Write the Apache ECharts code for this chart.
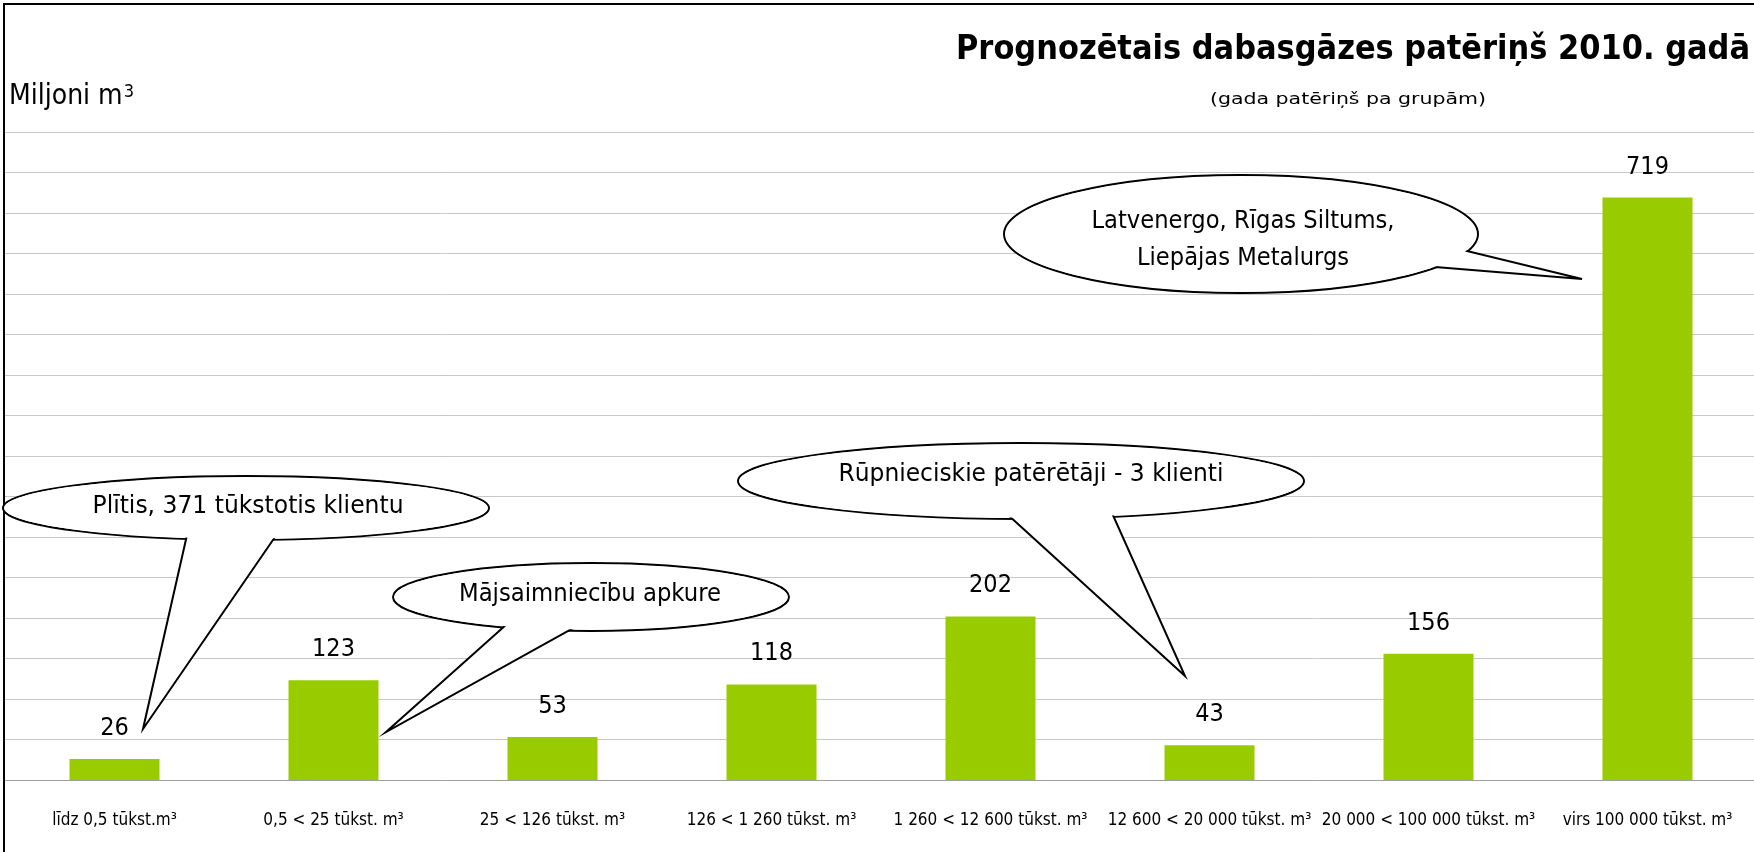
<!DOCTYPE html>
<html>
<head>
<meta charset="utf-8">
<title>Prognozētais dabasgāzes patēriņš 2010. gadā</title>
<script src="https://cdn.jsdelivr.net/npm/echarts@6/dist/echarts.min.js"></script>
<style>
  html, body { margin: 0; padding: 0; background: #fff; }
  #chart { width: 1754px; height: 852px; }
</style>
</head>
<body>
<div id="chart"></div>
<script>
// consumption groups (annual use per customer)
const categories = [
  'līdz 0,5 tūkst.m³',
  '0,5 < 25 tūkst. m³',
  '25 < 126 tūkst. m³',
  '126 < 1 260 tūkst. m³',
  '1 260 < 12 600 tūkst. m³',
  '12 600 < 20 000 tūkst. m³',
  '20 000 < 100 000 tūkst. m³',
  'virs 100 000 tūkst. m³'
]
// million m3
const consumption = [26, 123, 53, 118, 202, 43, 156, 719]

const titleText = 'Prognozētais dabasgāzes patēriņš 2010. gadā'
const subtitleText = '(gada patēriņš pa grupām)'
const calloutTexts = [
  'Plītis, 371 tūkstotis klientu',
  'Mājsaimniecību apkure',
  'Rūpnieciskie patērētāji - 3 klienti',
  'Latvenergo, Rīgas Siltums,\nLiepājas Metalurgs'
]

const FONT = "'DejaVu Sans Condensed', 'Liberation Sans Narrow', 'DejaVu Sans', sans-serif"

// speech bubble geometry in pixels (annotation layout, not data)
const bubbleLayout = [
  { cx: 246, cy: 508, rx: 243, ry: 32, tail: [[187, 535], [143, 729], [275, 537]], tx: 248, ty: 506, tw: 311, lh: 30 },
  { cx: 591, cy: 597, rx: 198, ry: 34, tail: [[507, 624], [386, 732], [575, 627]], tx: 590, ty: 594, tw: 262, lh: 30 },
  { cx: 1021, cy: 481, rx: 283, ry: 38, tail: [[1007, 514], [1185, 676], [1112, 513]], tx: 1031, ty: 474, tw: 385, lh: 30 },
  { cx: 1241, cy: 234, rx: 237, ry: 59, tail: [[1423, 266], [1582, 279], [1463, 250]], tx: 1243, ty: 240, tw: 303, lh: 37 }
]

// measure text so it can be squeezed to the reference width
const ctx = document.createElement('canvas').getContext('2d')
const textWidth = (text, size, weight) => {
  ctx.font = (weight || 'normal') + ' ' + size + 'px ' + FONT
  return Math.max(...text.split('\n').map(t => ctx.measureText(t).width))
}

const bubbleGraphics = []
bubbleLayout.forEach((b, i) => {
  const text = calloutTexts[i]
  const size = 25
  const sx = b.tw / textWidth(text.split('\n')[0], size)
  bubbleGraphics.push(
    { type: 'ellipse', z: 100, silent: true, shape: { cx: b.cx, cy: b.cy, rx: b.rx, ry: b.ry },
      style: { fill: '#fff', stroke: '#000', lineWidth: 2 } },
    { type: 'polygon', z: 101, silent: true, shape: { points: b.tail },
      style: { fill: '#fff', stroke: '#000', lineWidth: 2, lineJoin: 'miter' } },
    { type: 'ellipse', z: 102, silent: true, shape: { cx: b.cx, cy: b.cy, rx: b.rx - 1.5, ry: b.ry - 1.5 },
      style: { fill: '#fff' } },
    { type: 'text', z: 103, silent: true, x: b.tx, y: b.ty, scaleX: sx,
      style: { text, fontFamily: FONT, fontSize: size, lineHeight: b.lh, fill: '#000', align: 'center', verticalAlign: 'middle' } }
  )
})

const titleScale = 794 / textWidth(titleText, 34, 'bold')
const subScale = 276 / textWidth(subtitleText, 16)

const chart = echarts.init(document.getElementById('chart'))

chart.setOption({
  animation: false,
  grid: { left: 5, right: -3, top: 132, bottom: 72, containLabel: false, outerBoundsMode: 'none' },
  xAxis: {
    type: 'category',
    data: categories,
    axisLine: { lineStyle: { color: '#a0a0a0', width: 1 } },
    axisTick: { length: 8, lineStyle: { color: '#a0a0a0' } },
    axisLabel: { interval: 0, margin: 32, fontFamily: FONT, fontSize: 17, color: '#000' }
  },
  yAxis: {
    type: 'value',
    min: 0,
    max: 800,
    interval: 50,
    name: '{m|Miljoni m}{sup|3}',
    nameLocation: 'end',
    nameGap: 35,
    nameTextStyle: {
      align: 'left',
      verticalAlign: 'middle',
      padding: [0, 0, 0, 4],
      rich: {
        m: { fontFamily: FONT, fontSize: 28, color: '#000' },
        sup: { fontFamily: FONT, fontSize: 18, color: '#000', verticalAlign: 'top', padding: [0, 0, 0, 1] }
      }
    },
    axisLine: { show: false },
    axisTick: { show: false },
    axisLabel: { show: false },
    splitLine: { lineStyle: { color: '#c8c8c8', width: 1 } }
  },
  series: [
    {
      type: 'bar',
      data: consumption,
      barWidth: 90,
      itemStyle: { color: '#99cc00' },
      label: { show: true, position: 'top', distance: 18, fontFamily: FONT, fontSize: 25, color: '#000' }
    }
  ],
  graphic: [
    // chart frame
    { type: 'rect', z: 99, silent: true, shape: { x: 4, y: 4, width: 1800, height: 900 },
      style: { fill: 'none', stroke: '#000', lineWidth: 2 } },
    { type: 'text', z: 103, silent: true, x: 1750, y: 50, scaleX: titleScale,
      style: { text: titleText, fontFamily: FONT, fontSize: 34, fontWeight: 'bold', fill: '#000', align: 'right', verticalAlign: 'middle' } },
    { type: 'text', z: 103, silent: true, x: 1348, y: 100, scaleX: subScale,
      style: { text: subtitleText, fontFamily: FONT, fontSize: 16, fill: '#000', align: 'center', verticalAlign: 'middle' } },
    ...bubbleGraphics
  ]
})

window.addEventListener('resize', () => chart.resize())
</script>
</body>
</html>
